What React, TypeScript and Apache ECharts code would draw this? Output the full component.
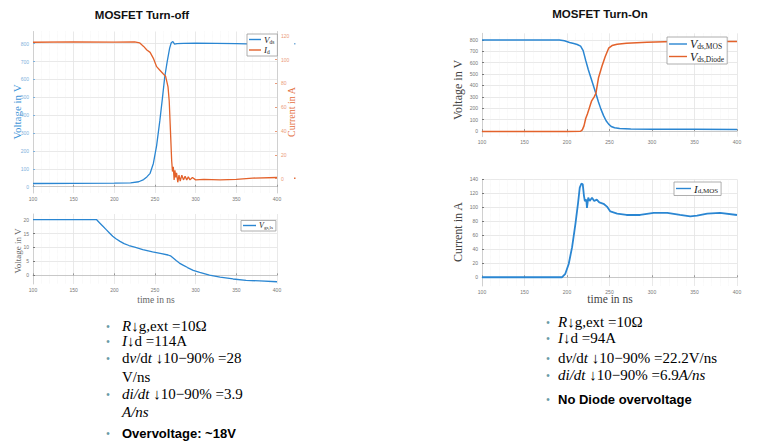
import React, { useEffect, useRef } from 'react';
import * as echarts from 'echarts';

// ---- Data ----
// MOSFET Turn-off: V_ds (left axis, V) and I_d (right axis, A)
const offVdsT = [100, 150, 200, 220, 230, 236, 240, 244, 248, 252, 256, 259, 262, 265, 268, 270, 272, 274, 277, 285, 300, 350, 400];
const offVdsV = [18, 19, 20, 22, 28, 40, 55, 75, 130, 230, 371, 490, 615, 700, 775, 805, 812, 797, 800, 802, 803, 800, 795];

const offIdT = [100, 150, 200, 225, 231, 236, 240, 244, 248, 252, 256, 260, 263, 266, 267.5, 269, 270.5, 271.5, 272.5, 273.5, 274.5, 275.5, 276.5, 278, 279.5, 281, 283, 285, 287, 289, 291, 293, 296, 300, 310, 330, 350, 370, 400];
const offIdA = [114.5, 114.8, 114.6, 114.8, 114, 111, 108, 106, 101, 94, 91, 88, 86, 77, 65, 40, 15, 6, 10, -1, 7, 1, 5, -3, 3, -2, 3, -1, 2, -1, 1.5, -1, 1, -1, -0.5, -1, -0.5, 0.5, 1];

// MOSFET Turn-off: V_gs
const offVgsT = [100, 150, 178, 182, 186, 190, 194, 198, 202, 207, 212, 218, 225, 235, 247, 258, 266, 269, 272, 276, 280, 285, 290, 297, 305, 317, 330, 346, 362, 379, 400];
const offVgsV = [20, 20, 20, 18.8, 17.6, 16.4, 15.2, 14, 13.1, 12.2, 11.4, 10.7, 10.1, 9.2, 8.4, 7.8, 7.3, 7.0, 6.3, 5.3, 4.4, 3.6, 2.8, 1.8, 1.1, 0.1, -0.6, -1.3, -1.8, -2.0, -2.3];

// MOSFET Turn-On: V_ds,MOS and V_ds,Diode
const onMosT = [100, 150, 191, 197, 203, 208, 212, 216, 219, 222, 225, 228, 231, 234, 237, 240, 243, 246, 249, 252, 256, 262, 275, 300, 350, 400];
const onMosV = [800, 800, 800, 792, 778, 768, 760, 745, 706, 620, 540, 470, 400, 330, 255, 190, 135, 90, 60, 40, 28, 22, 18, 16, 15, 14];

const onDiodeT = [100, 150, 200, 216, 218, 220, 222, 224, 226, 229, 232, 234, 237, 241, 245, 249, 253, 259, 270, 294, 325, 360, 400];
const onDiodeV = [-5, -5, -4, -2, 10, 45, 110, 150, 195, 265, 300, 331, 465, 566, 654, 727, 750, 762, 771, 780, 785, 786, 785];

// MOSFET Turn-On: I_d,MOS
const onIdT = [100, 150, 194, 198, 202, 206, 210, 213, 215, 217, 218.5, 220, 221, 222.7, 223.5, 225, 226.7, 229.4, 232, 235, 238, 243, 247, 251, 259, 270, 286, 302, 318, 333, 345, 353, 365, 380, 400];
const onIdA = [0, 0, 0, 5, 19, 43, 77, 106, 128, 134, 133, 116, 109, 111, 99, 114, 109, 113.5, 109, 111, 107, 105, 101, 94, 91, 89, 89, 92, 92, 89, 87, 88, 91, 92, 89];

// Tick labels
const voltTicks = [0, 100, 200, 300, 400, 500, 600, 700, 800];
const curOffTicks = [0, 20, 40, 60, 80, 100, 120];
const vgsTicks = [0, 5, 10, 15, 20];
const curOnTicks = [0, 20, 40, 60, 80, 100, 120, 140];

const leftBullets = [
  { text: '{it|R}{r|↓g,ext =10Ω}', bullet: true },
  { text: '{it|I}{r|↓d =114A}', bullet: true },
  { text: '{r|d}{it|v}{r|/d}{it|t}{r| ↓10−90% =28}', bullet: true },
  { text: '{r|V/ns}', bullet: false },
  { text: '{it|di/dt}{r| ↓10−90% =3.9}', bullet: true },
  { text: '{it|A/ns}', bullet: false },
  { text: '{b|Overvoltage: ~18V}', bullet: true },
];
const rightBullets = [
  { text: '{it|R}{r|↓g,ext =10Ω}', bullet: true },
  { text: '{it|I}{r|↓d =94A}', bullet: true },
  { text: '{r|d}{it|v}{r|/d}{it|t}{r| ↓10−90% =22.2V/ns}', bullet: true },
  { text: '{it|di/dt}{r| ↓10−90% =6.9}{it|A/ns}', bullet: true },
  { text: '{b|No Diode overvoltage}', bullet: true },
];

const pairs = (t: number[], v: number[]) => t.map((x, i) => [x, v[i]]);

const SERIF = "'Liberation Serif', 'DejaVu Serif', serif";
const SANS = "'Liberation Sans', Arial, sans-serif";
const BLUE = '#2a86d2';
const ORANGE = '#e3622b';
const GRID = '#e3e3e3';
const MINOR = '#efefef';

function xAxis(gridIndex: number) {
  return {
    type: 'value',
    gridIndex,
    min: 100,
    max: 400,
    interval: 50,
    axisLine: { show: true, lineStyle: { color: '#c8c8c8', width: 1 } },
    axisTick: { show: true, inside: true, length: 2, lineStyle: { color: '#999' } },
    axisLabel: { fontSize: 5, color: '#777', margin: 3, fontFamily: SANS },
    splitLine: { show: true, lineStyle: { color: GRID, width: 0.8 } },
    minorTick: { show: false, splitNumber: 5 },
    minorSplitLine: { show: true, lineStyle: { color: MINOR, width: 0.6, type: 'dotted' } },
  };
}

function yAxis(gridIndex: number, min: number, max: number, ticks: number[], color: string, opts: any = {}) {
  return {
    type: 'value',
    gridIndex,
    min,
    max,
    axisLine: { show: true, lineStyle: { color: '#d0d0d0', width: 1 } },
    axisTick: { show: true, inside: true, length: 2, customValues: ticks, lineStyle: { color } },
    axisLabel: { fontSize: 5, color, margin: 4, customValues: ticks, fontFamily: SANS },
    splitLine: { show: true, lineStyle: { color: GRID, width: 0.8 } },
    ...opts,
  };
}

const legendNames: Record<string, string> = {
  Vds: '{i|V}{s|ds}',
  Id: '{i|I}{s|d}',
  Vgs: '{i|V}{s|gs,ls}',
  VdsMOS: '{i|V}{s|ds,MOS}',
  VdsDiode: '{i|V}{s|ds,Diode}',
  IdMOS: '{i|I}{s|d,MOS}',
};

function legend(data: string[], left: number, top: number, big: number, small: number, itemWidth: number, gap: number) {
  return {
    data: data.map((name) => ({ name, icon: 'rect' })),
    orient: 'vertical',
    left,
    top,
    selectedMode: false,
    padding: [1, 3, 1, 2],
    itemGap: gap,
    itemWidth,
    itemHeight: 1.4,
    backgroundColor: '#fff',
    borderColor: '#9a9a9a',
    borderWidth: 0.8,
    borderRadius: 0,
    formatter: (n: string) => legendNames[n] || n,
    textStyle: {
      padding: [0, 0, 0, -2],
      rich: {
        i: { fontFamily: SERIF, fontStyle: 'italic', fontSize: big, color: '#222', lineHeight: big + 1 },
        s: { fontFamily: SERIF, fontSize: small, color: '#222', verticalAlign: 'bottom', lineHeight: big - 1 },
      },
    },
  };
}

function line(name: string, data: number[][], color: string, xi: number, yi: number, w = 1.3) {
  return {
    name,
    type: 'line',
    xAxisIndex: xi,
    yAxisIndex: yi,
    data,
    symbol: 'none',
    silent: true,
    lineStyle: { color, width: w },
    itemStyle: { color },
  };
}

function txt(x: number, y: number, text: string, font: any, rotation = 0) {
  return {
    type: 'text',
    x,
    y,
    rotation,
    silent: true,
    style: { text, align: 'center', verticalAlign: 'middle', ...font },
  };
}

function bulletBlock(lines: { text: string; bullet: boolean }[], ys: number[], bx: number, tx: number) {
  const rich = {
    r: { fontFamily: SERIF, fontSize: 15, color: '#111' },
    it: { fontFamily: SERIF, fontSize: 15, fontStyle: 'italic', color: '#111' },
    b: { fontFamily: SANS, fontSize: 13, fontWeight: 'bold', color: '#111' },
  };
  const out: any[] = [];
  lines.forEach((l, i) => {
    if (l.bullet) {
      out.push({
        type: 'text', x: bx, y: ys[i], silent: true,
        style: { text: '•', fontSize: 10, fill: '#6b9aa6', fontFamily: SANS, align: 'center', verticalAlign: 'middle' },
      });
    }
    out.push({
      type: 'text', x: tx, y: ys[i], silent: true,
      style: { text: l.text, rich, align: 'left', verticalAlign: 'middle' },
    });
  });
  return out;
}

export default function App() {
  const ref = useRef<HTMLDivElement>(null);
  useEffect(() => {
    document.body.style.margin = '0';
    const chart = echarts.init(ref.current!, undefined, { renderer: 'svg' });
    const option: any = {
      animation: false,
      backgroundColor: '#fff',
      grid: [
        { left: 33, top: 31.5, width: 244, height: 161.5 },
        { left: 33, top: 214, width: 244, height: 70 },
        { left: 482, top: 33.3, width: 255, height: 103.4 },
        { left: 482, top: 179.3, width: 255, height: 106.7 },
      ],
      xAxis: [xAxis(0), xAxis(1), xAxis(2), xAxis(3)],
      yAxis: [
        yAxis(0, -35, 868, voltTicks, '#7fb1dc'),
        yAxis(0, -12, 123.5, curOffTicks, '#eb9a78', { position: 'right', splitLine: { show: false } }),
        yAxis(1, -3.1, 22, vgsTicks, '#777'),
        yAxis(2, -50, 858, voltTicks, '#777'),
        yAxis(3, -12.5, 140, curOnTicks, '#777'),
      ],
      legend: [
        legend(['Vds', 'Id'], 247, 34, 9, 5.5, 12, 1),
        legend(['Vgs'], 241, 220.5, 8, 5, 13, 1),
        legend(['VdsMOS', 'VdsDiode'], 667, 37, 12, 7.5, 18, 0),
        legend(['IdMOS'], 674, 182, 11, 7, 15, 0),
      ],
      series: [
        line('Vds', pairs(offVdsT, offVdsV), BLUE, 0, 0),
        line('Id', pairs(offIdT, offIdA), ORANGE, 0, 1),
        line('Vgs', pairs(offVgsT, offVgsV), BLUE, 1, 2),
        line('VdsMOS', pairs(onMosT, onMosV), BLUE, 2, 3, 1.5),
        line('VdsDiode', pairs(onDiodeT, onDiodeV), ORANGE, 2, 3, 1.5),
        line('IdMOS', pairs(onIdT, onIdA), BLUE, 3, 4, 1.8),
      ],
      graphic: [
        txt(142, 15, 'MOSFET Turn-off', { fontFamily: SANS, fontSize: 11.5, fontWeight: 'bold', fill: '#111' }),
        txt(600, 14, 'MOSFET Turn-On', { fontFamily: SANS, fontSize: 11.5, fontWeight: 'bold', fill: '#111' }),
        txt(17, 112, 'Voltage in V', { fontFamily: SERIF, fontSize: 11, fill: '#3f95d8' }, Math.PI / 2),
        txt(291, 112, 'Current in A', { fontFamily: SERIF, fontSize: 10, fill: '#e4703f' }, Math.PI / 2),
        txt(18, 251, 'Voltage in V', { fontFamily: SERIF, fontSize: 9, fill: '#666' }, Math.PI / 2),
        txt(156, 299.5, 'time in ns', { fontFamily: SERIF, fontSize: 9.5, fill: '#666' }),
        txt(458, 90, 'Voltage in V', { fontFamily: SERIF, fontSize: 12, fill: '#444' }, Math.PI / 2),
        txt(458, 232, 'Current in A', { fontFamily: SERIF, fontSize: 12, fill: '#444' }, Math.PI / 2),
        txt(610, 299, 'time in ns', { fontFamily: SERIF, fontSize: 11.5, fill: '#444' }),
        { type: 'rect', silent: true, shape: { x: 294, y: 43, width: 1.5, height: 1.5 }, style: { fill: '#7fb1dc' } },
        { type: 'rect', silent: true, shape: { x: 294, y: 177.5, width: 1.5, height: 1.5 }, style: { fill: '#e4703f' } },
        ...bulletBlock(leftBullets, [326, 341, 358, 377, 394, 412, 433], 108, 122),
        ...bulletBlock(rightBullets, [322, 338, 358, 375, 399], 548, 558),
      ],
    };
    chart.setOption(option);
    return () => chart.dispose();
  }, []);
  return <div ref={ref} style={{ width: 760, height: 442 }} />;
}
